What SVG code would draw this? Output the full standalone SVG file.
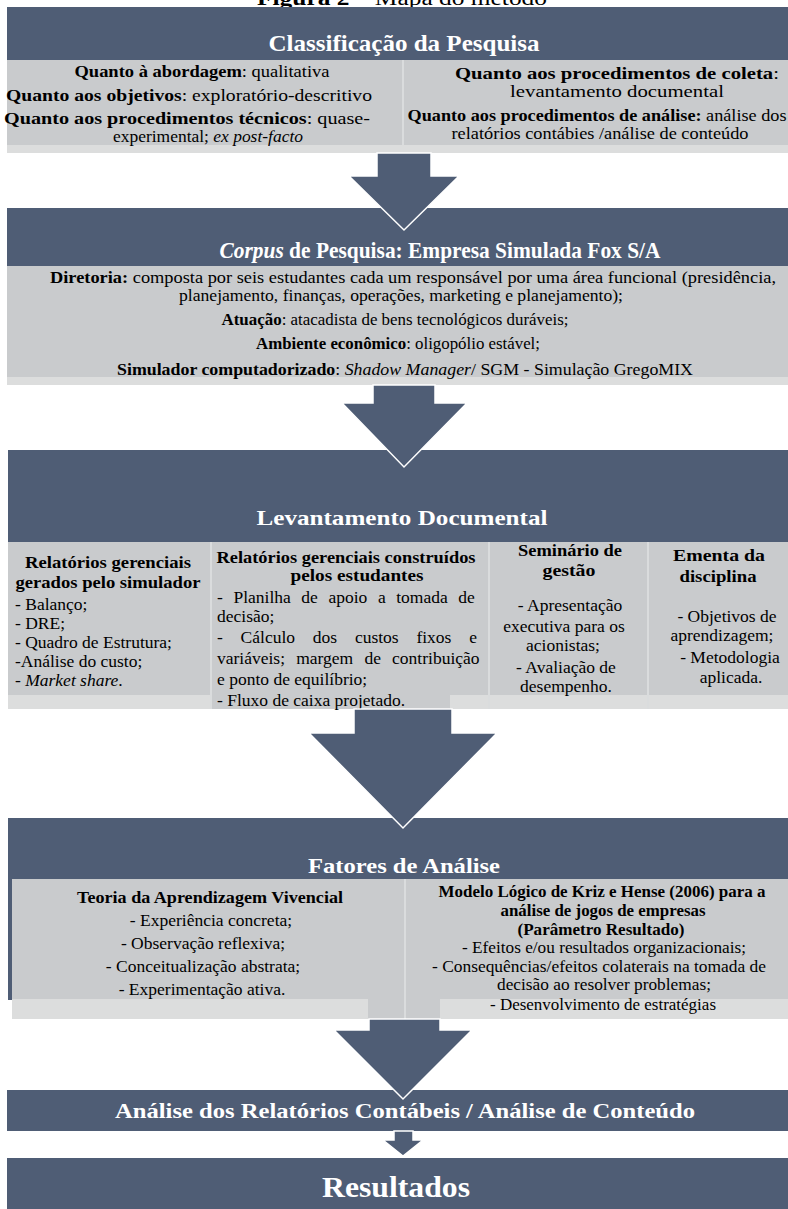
<svg xmlns="http://www.w3.org/2000/svg" width="788" height="1209" viewBox="0 0 788 1209">
<style>
.hdr{fill:#4f5d75}
.pnl{fill:#c9cbcd}
.stp{fill:#dcdddd}
.div{stroke:#dadcdd;stroke-width:2}
.arr{fill:#4f5d75;stroke:#ffffff;stroke-width:1.5;stroke-linejoin:miter}
text{font-family:"Liberation Serif","Times New Roman",serif;fill:#000}
.ht{font-weight:bold;fill:#fff;text-anchor:middle}
.c{text-anchor:middle}
.b{font-weight:bold}
.i{font-style:italic}
</style>
<rect width="788" height="1209" fill="#fff"/>
<g id="caption"><text x="402" y="5" class="c" font-size="20" textLength="290" lengthAdjust="spacingAndGlyphs"><tspan class="b">Figura 2</tspan> – Mapa do método</text></g>

<g id="node-classificacao">
<rect class="hdr" x="7" y="7" width="781" height="53"/>
<text class="ht" x="404" y="51" font-size="23" textLength="271" lengthAdjust="spacingAndGlyphs">Classificação da Pesquisa</text>
<rect class="pnl" x="7" y="60" width="781" height="93"/>
<rect class="stp" x="7" y="145" width="781" height="8"/>
<line class="div" x1="403" y1="60" x2="403" y2="145"/>
<g font-size="17">
<text class="c" x="202" y="77" textLength="255" lengthAdjust="spacingAndGlyphs"><tspan class="b">Quanto à abordagem</tspan>: qualitativa</text>
<text class="c" x="189" y="101" textLength="366" lengthAdjust="spacingAndGlyphs"><tspan class="b">Quanto aos objetivos</tspan>: exploratório-descritivo</text>
<text class="c" x="187" y="124" textLength="366" lengthAdjust="spacingAndGlyphs"><tspan class="b">Quanto aos procedimentos técnicos</tspan>: quase-</text>
<text class="c" x="208" y="142" textLength="190" lengthAdjust="spacingAndGlyphs">experimental; <tspan class="i">ex post-facto</tspan></text>
<text class="c" x="617" y="79" textLength="324" lengthAdjust="spacingAndGlyphs"><tspan class="b">Quanto aos procedimentos de coleta</tspan>:</text>
<text class="c" x="617" y="97" textLength="214" lengthAdjust="spacingAndGlyphs">levantamento documental</text>
<text class="c" x="597" y="121" textLength="379" lengthAdjust="spacingAndGlyphs"><tspan class="b">Quanto aos procedimentos de análise:</tspan> análise dos</text>
<text class="c" x="600" y="139" textLength="297" lengthAdjust="spacingAndGlyphs">relatórios contábies /análise de conteúdo</text>
</g>
</g>

<g id="node-corpus">
<rect class="hdr" x="7" y="208" width="781" height="58"/>
<text class="ht" x="440" y="258" font-size="23" textLength="441" lengthAdjust="spacingAndGlyphs"><tspan class="i">Corpus</tspan> de Pesquisa: Empresa Simulada Fox S/A</text>
<rect class="pnl" x="7" y="266" width="781" height="119"/>
<rect class="stp" x="7" y="377" width="781" height="8"/>
<g font-size="17">
<text class="c" x="413" y="283" textLength="726" lengthAdjust="spacingAndGlyphs"><tspan class="b">Diretoria:</tspan> composta por seis estudantes cada um responsável por uma área funcional (presidência,</text>
<text class="c" x="401" y="301" textLength="444" lengthAdjust="spacingAndGlyphs">planejamento, finanças, operações, marketing e planejamento);</text>
<text class="c" x="395" y="325" textLength="347" lengthAdjust="spacingAndGlyphs"><tspan class="b">Atuação</tspan>: atacadista de bens tecnológicos duráveis;</text>
<text class="c" x="398" y="349" textLength="284" lengthAdjust="spacingAndGlyphs"><tspan class="b">Ambiente econômico</tspan>: oligopólio estável;</text>
<text class="c" x="405" y="375" textLength="576" lengthAdjust="spacingAndGlyphs"><tspan class="b">Simulador computadorizado</tspan>: <tspan class="i">Shadow Manager</tspan>/ SGM - Simulação GregoMIX</text>
</g>
</g>

<g id="node-levantamento">
<rect class="hdr" x="8" y="450" width="780" height="92"/>
<text class="ht" x="402" y="525" font-size="22" textLength="291" lengthAdjust="spacingAndGlyphs">Levantamento Documental</text>
<rect class="pnl" x="8" y="542" width="780" height="167"/>
<rect class="stp" x="8" y="695" width="202" height="14"/>
<rect class="stp" x="450" y="695" width="338" height="14"/>
<line class="div" x1="211" y1="542" x2="211" y2="709"/>
<line class="div" x1="489" y1="542" x2="489" y2="709"/>
<line class="div" x1="648" y1="542" x2="648" y2="709"/>
<g font-size="17.5">
<text class="c b" x="108" y="568" textLength="166" lengthAdjust="spacingAndGlyphs">Relatórios gerenciais</text>
<text class="c b" x="108" y="588" textLength="185" lengthAdjust="spacingAndGlyphs">gerados pelo simulador</text>
<text x="15" y="610">- Balanço;</text>
<text x="15" y="629">- DRE;</text>
<text x="15" y="648">- Quadro de Estrutura;</text>
<text x="15" y="667">-Análise do custo;</text>
<text x="15" y="686">- <tspan class="i">Market share</tspan>.</text>

<text class="c b" x="346" y="563" textLength="259" lengthAdjust="spacingAndGlyphs">Relatórios gerenciais construídos</text>
<text class="c b" x="357" y="581" textLength="133" lengthAdjust="spacingAndGlyphs">pelos estudantes</text>
<text x="217" y="603" word-spacing="6.2">- Planilha de apoio a tomada de</text>
<text x="217" y="622">decisão;</text>
<text x="217" y="643" word-spacing="13.4">- Cálculo dos custos fixos e</text>
<text x="217" y="664" word-spacing="6.8">variáveis; margem de contribuição</text>
<text x="217" y="685">e ponto de equilíbrio;</text>
<text x="217" y="706">- Fluxo de caixa projetado.</text>

<text class="c b" x="570" y="556" textLength="104" lengthAdjust="spacingAndGlyphs">Seminário de</text>
<text class="c b" x="569" y="576" textLength="53" lengthAdjust="spacingAndGlyphs">gestão</text>
<text class="c" x="570" y="611">- Apresentação</text>
<text class="c" x="564" y="632">executiva para os</text>
<text class="c" x="563" y="651">acionistas;</text>
<text class="c" x="566" y="673">- Avaliação de</text>
<text class="c" x="566" y="692">desempenho.</text>

<text class="c b" x="719" y="561" textLength="92" lengthAdjust="spacingAndGlyphs">Ementa da</text>
<text class="c b" x="718" y="582" textLength="77" lengthAdjust="spacingAndGlyphs">disciplina</text>
<text class="c" x="727" y="622">- Objetivos de</text>
<text class="c" x="722" y="641">aprendizagem;</text>
<text class="c" x="730" y="663">- Metodologia</text>
<text class="c" x="731" y="683">aplicada.</text>
</g>
</g>

<g id="node-fatores">
<rect class="hdr" x="8" y="818" width="780" height="182"/>
<text class="ht" x="404" y="873" font-size="22" textLength="192" lengthAdjust="spacingAndGlyphs">Fatores de Análise</text>
<rect class="pnl" x="12" y="879" width="776" height="140"/>
<rect class="stp" x="12" y="999" width="356" height="20"/>
<rect class="stp" x="440" y="999" width="348" height="20"/>
<line class="div" x1="405" y1="879" x2="405" y2="1019"/>
<g font-size="17.5">
<text class="c b" x="210" y="903" textLength="266" lengthAdjust="spacingAndGlyphs">Teoria da Aprendizagem Vivencial</text>
<text class="c" x="211" y="926">- Experiência concreta;</text>
<text class="c" x="203" y="949">- Observação reflexiva;</text>
<text class="c" x="203" y="972">- Conceitualização abstrata;</text>
<text class="c" x="202" y="995">- Experimentação ativa.</text>

<text class="c b" x="602" y="897" textLength="327" lengthAdjust="spacingAndGlyphs">Modelo Lógico de Kriz e Hense (2006) para  a</text>
<text class="c b" x="603" y="916" textLength="205" lengthAdjust="spacingAndGlyphs">análise de jogos de empresas</text>
<text class="c b" x="601" y="935" textLength="167" lengthAdjust="spacingAndGlyphs">(Parâmetro Resultado)</text>
<text class="c" x="604" y="953" textLength="284" lengthAdjust="spacingAndGlyphs">- Efeitos e/ou resultados organizacionais;</text>
<text class="c" x="599" y="972" textLength="334" lengthAdjust="spacingAndGlyphs">- Consequências/efeitos colaterais na tomada de</text>
<text class="c" x="604" y="990" textLength="214" lengthAdjust="spacingAndGlyphs">decisão ao resolver problemas;</text>
<text class="c" x="603" y="1010" textLength="226" lengthAdjust="spacingAndGlyphs">- Desenvolvimento de estratégias</text>
</g>
</g>

<g id="node-analise">
<rect class="hdr" x="7" y="1090" width="781" height="41"/>
<text class="ht" x="405" y="1118" font-size="21" textLength="580" lengthAdjust="spacingAndGlyphs">Análise dos Relatórios Contábeis / Análise de Conteúdo</text>
</g>

<g id="node-resultados">
<rect class="hdr" x="7" y="1158" width="781" height="51"/>
<text class="ht" x="396" y="1197" font-size="29" textLength="148" lengthAdjust="spacingAndGlyphs">Resultados</text>
</g>

<g id="connectors">
<polygon class="arr" points="377,153 431,153 431,176 459,176 404,230 349,176 377,176"/>
<polygon class="arr" points="373,385 435,385 435,403 467,403 404,467 342,403 373,403"/>
<polygon class="arr" points="354,709 452,709 452,733 497,733 403,828 309,733 354,733"/>
<polygon class="arr" points="369,1019 440,1019 440,1030 472,1030 403,1099 334,1030 369,1030"/>
<polygon class="arr" points="394,1131 413,1131 413,1140 423,1140 403,1156 383,1140 394,1140"/>
</g>
</svg>
